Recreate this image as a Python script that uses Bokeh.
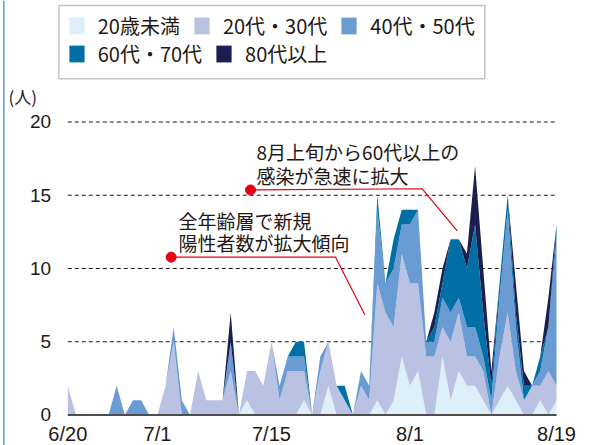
from bokeh.plotting import figure
from bokeh.models import (ColumnDataSource, Range1d, Legend, LegendItem, Label, BoxAnnotation)
from bokeh.embed import file_html
from bokeh.resources import INLINE
from bokeh.core.properties import value

# ---------------- data ----------------
days = list(range(61))  # day index: 6/20 .. 8/19
tick_days = [0, 11, 25, 42, 60]
tick_labels = ["6/20", "7/1", "7/15", "8/1", "8/19"]
y_ticks = [0, 5, 10, 15, 20]
y_tick_labels = ["0", "5", "10", "15", "20"]
grid_levels = [5, 10, 15, 20]

series_names = ["20歳未満", "20代・30代", "40代・50代", "60代・70代", "80代以上"]

under20 = [0, 0, 0, 0, 0, 0, 0, 0, 0, 0,
           0, 0, 0, 0, 0, 0, 0, 0, 0, 0,
           0, 0, 1, 0, 0, 0, 0, 0, 0, 1,
           0, 0, 2, 0, 0, 0, 0, 0, 1, 0,
           1, 4, 2, 3, 0, 0, 4, 1, 3, 2,
           2, 1, 0, 1, 2, 1, 0, 0, 1, 0,
           1]
age20_30 = [2, 0, 0, 0, 0, 0, 0, 0, 0, 0,
            0, 0, 2, 5, 0, 0, 3, 1, 1, 1,
            3, 0, 2, 3, 2, 5, 1, 3, 3, 2,
            0, 3, 3, 2, 1, 0, 2, 1, 8, 7,
            5, 7, 7, 6, 4, 4, 2, 4, 4, 2,
            2, 2, 0, 3, 5, 2, 1, 2, 1, 3,
            1]
age40_50 = [0, 0, 0, 0, 0, 0, 2, 0, 1, 1,
            0, 0, 0, 1, 1, 0, 0, 0, 0, 0,
            2, 0, 0, 0, 0, 0, 1, 1, 1, 1,
            0, 1, 0, 0, 0, 0, 1, 1, 5, 2,
            4, 2, 4, 5, 1, 1, 2, 2, 1, 2,
            2, 1, 1, 4, 7, 3, 0, 0, 1, 3,
            10]
age60_70 = [0, 0, 0, 0, 0, 0, 0, 0, 0, 0,
            0, 0, 0, 0, 0, 0, 0, 0, 0, 0,
            0, 0, 0, 0, 0, 0, 0, 0, 1, 1,
            0, 0, 0, 0, 1, 0, 0, 0, 1, 0,
            2, 1, 1, 0, 0, 1, 1, 5, 4, 4,
            7, 3, 1, 1, 1, 1, 1, 0, 1, 0,
            1]
age80 = [0, 0, 0, 0, 0, 0, 0, 0, 0, 0,
         0, 0, 0, 0, 0, 0, 0, 0, 0, 0,
         2, 0, 0, 0, 0, 0, 0, 0, 0, 0,
         0, 0, 0, 0, 0, 0, 0, 0, 0, 0,
         0, 0, 0, 0, 0, 1, 1, 0, 0, 1,
         4, 3, 1, 0, 0, 2, 1, 0, 0, 2,
         0]

colors = ["#ddeff9", "#b9c2e3", "#6a9bd3", "#006fa5", "#1b1f4f"]

# ---------------- figure ----------------
INK = "#231815"
JP = "Noto Sans CJK JP"
LAT = "Liberation Sans"

# the plot frame fills the whole canvas; axes are drawn through the scales
p = figure(width=590, height=445, output_backend="svg", toolbar_location=None,
           x_range=Range1d(-8.263, 64.17), y_range=Range1d(-2.082, 28.29),
           min_border_left=0, min_border_right=0, min_border_top=0,
           min_border_bottom=0, x_axis_type=None, y_axis_type=None)
p.outline_line_color = None
p.grid.visible = False
p.background_fill_color = "white"
p.border_fill_color = "white"

# thin blue page rule at the left edge
p.segment(x0=[-7.85], x1=[-7.85], y0=[-2.1], y1=[28.3], line_color="#5b9bd5", line_width=1.5)

# dashed horizontal grid lines (under the areas)
grid_src = ColumnDataSource(dict(y=grid_levels,
                                 x0=[days[0]] * len(grid_levels),
                                 x1=[days[-1]] * len(grid_levels)))
p.segment(x0="x0", x1="x1", y0="y", y1="y", source=grid_src,
          line_color=INK, line_width=1.1, line_dash="4 3")

keys = ["u20", "a2030", "a4050", "a6070", "a80"]
src = ColumnDataSource(dict(x=days, u20=under20, a2030=age20_30, a4050=age40_50,
                            a6070=age60_70, a80=age80))
areas = p.varea_stack(stackers=keys, x="x", color=colors, source=src)

# x axis: base line + date labels
p.segment(x0=[days[0]], x1=[days[-1]], y0=[y_ticks[0]], y1=[y_ticks[0]],
          line_color="#4d4d4d", line_width=2)
xt_src = ColumnDataSource(dict(x=tick_days, y=[-1.30] * len(tick_days), t=tick_labels))
p.text(x="x", y="y", text="t", source=xt_src, text_font=value(LAT),
       text_font_size=value("20px"), text_color=INK, text_align="center",
       text_baseline="middle")

# y axis labels
yt_src = ColumnDataSource(dict(x=[-2.06] * len(y_ticks), y=y_ticks, t=y_tick_labels))
p.text(x="x", y="y", text="t", source=yt_src, text_font=value(LAT),
       text_font_size=value("19px"), text_color=INK, text_align="right",
       text_baseline="middle")

# unit label
p.add_layout(Label(x=-7.28, y=21.74, text="(人)", text_font=JP, text_font_size="17px",
                   text_color=INK, text_baseline="middle", text_align="left"))

# legend (two rows inside a box)
p.add_layout(BoxAnnotation(left=-1.105, right=51.2, top=27.95, bottom=22.95,
                           fill_color=None, line_color="#3e3a39", line_width=1.5))


def make_legend(idx, loc):
    return Legend(items=[LegendItem(label=series_names[i], renderers=[areas[i]]) for i in idx],
                  orientation="horizontal", location=loc,
                  glyph_width=19, glyph_height=21, label_standoff=12, spacing=12,
                  padding=0, margin=0, border_line_color=None, background_fill_alpha=0,
                  label_text_font=JP, label_text_font_size="20px", label_text_color=INK)


p.add_layout(make_legend([0, 1, 2], (66.7, 405)))
p.add_layout(make_legend([3, 4], (66.7, 377)))

# annotations
RED = "#e50012"
ann_src = ColumnDataSource(dict(x=[22.43, 12.69], y=[15.36, 10.77]))
p.line(x=[22.43, 43.51, 47.81], y=[15.36, 15.44, 12.56], line_color=RED, line_width=1.2)
p.line(x=[12.69, 32.87, 36.46], y=[10.77, 10.77, 6.84], line_color=RED, line_width=1.2)
p.scatter(x="x", y="y", source=ann_src, size=10, color=RED)

for txt, x, y in [("8月上旬から60代以上の", 23.17, 17.99),
                  ("感染が急速に拡大", 23.17, 16.38),
                  ("全年齢層で新規", 13.59, 13.28),
                  ("陽性者数が拡大傾向", 13.59, 11.77)]:
    p.add_layout(Label(x=x, y=y, text=txt, text_font=JP, text_font_size="19px",
                       text_color=INK, text_baseline="middle", text_align="left"))

open("out.html", "w").write(file_html(p, INLINE))
